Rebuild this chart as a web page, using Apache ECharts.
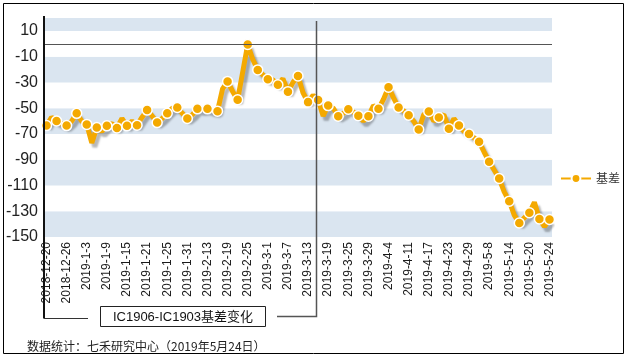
<!DOCTYPE html>
<html><head><meta charset="utf-8">
<script src="https://cdn.jsdelivr.net/npm/echarts@6/dist/echarts.min.js"></script>
<style>html,body{margin:0;padding:0;background:#fff}#c{width:628px;height:357px}</style>
</head><body><div id="c"></div>
<script>
const categories = [
'2018-12-20','2018-12-21','2018-12-24','2018-12-25','2018-12-26','2018-12-27','2018-12-28',
'2019-1-2','2019-1-3','2019-1-4','2019-1-7','2019-1-8','2019-1-9','2019-1-10','2019-1-11','2019-1-14','2019-1-15','2019-1-16','2019-1-17','2019-1-18','2019-1-21','2019-1-22','2019-1-23','2019-1-24','2019-1-25','2019-1-28','2019-1-29','2019-1-30','2019-1-31',
'2019-2-1','2019-2-11','2019-2-12','2019-2-13','2019-2-14','2019-2-15','2019-2-18','2019-2-19','2019-2-20','2019-2-21','2019-2-22','2019-2-25','2019-2-26','2019-2-27','2019-2-28',
'2019-3-1','2019-3-4','2019-3-5','2019-3-6','2019-3-7','2019-3-8','2019-3-11','2019-3-12','2019-3-13','2019-3-14','2019-3-15','2019-3-18','2019-3-19','2019-3-20','2019-3-21','2019-3-22','2019-3-25','2019-3-26','2019-3-27','2019-3-28','2019-3-29',
'2019-4-1','2019-4-2','2019-4-3','2019-4-4','2019-4-8','2019-4-9','2019-4-10','2019-4-11','2019-4-12','2019-4-15','2019-4-16','2019-4-17','2019-4-18','2019-4-19','2019-4-22','2019-4-23','2019-4-24','2019-4-25','2019-4-26','2019-4-29','2019-4-30',
'2019-5-6','2019-5-7','2019-5-8','2019-5-9','2019-5-10','2019-5-13','2019-5-14','2019-5-15','2019-5-16','2019-5-17','2019-5-20','2019-5-21','2019-5-22','2019-5-23','2019-5-24'
];
const basis = [
-63.5,-57,-60,-62,-63.5,-60,-54,-60,-62.6,-77,
-65,-68,-63.7,-62,-65.3,-58,-63.7,-60,-63.2,-57,
-51.5,-56,-61.2,-58,-54,-50,-49.4,-54,-58,-55,
-50.5,-51,-50.5,-52,-52.3,-35,-29.2,-37,-43.5,-22,
-0.6,-12,-20.3,-24,-27.6,-28,-31.8,-27,-37.2,-30,
-25,-38,-45.3,-40,-43.7,-56,-48,-50,-56.3,-54,
-50.8,-53,-55.8,-60,-56.2,-48,-50.5,-43,-33.7,-42,
-49.5,-52,-55.4,-60,-66.6,-55,-52.5,-60,-57.2,-55,
-66,-58,-63.4,-68,-70,-73,-76.1,-84,-91.5,-98,
-104.6,-115,-122.2,-133,-139.1,-135,-131.2,-123,-136,-142,
-136.4
];
const seriesName = '基差';
const yMin = -150, yMax = 20, yStep = 20;
const zeroLine = 0;
const boxTitle = 'IC1906-IC1903基差变化';
const sourceNote = '数据统计：七禾研究中心（2019年5月24日）';
const splitStartIndex = 53, splitEndIndex = 54;

const chart = echarts.init(document.getElementById('c'), null, {renderer: 'canvas'});
const orange = '#F4A900';
const option = {
  animation: false,
  backgroundColor: '#fff',
  grid: {left: 44, right: 76, top: 18, bottom: 120, containLabel: false},
  legend: {
    data: [seriesName], left: 555, top: 'middle', orient: 'vertical',
    itemWidth: 30, itemHeight: 11, itemGap: 5,
    textStyle: {fontSize: 12, color: '#333', fontFamily: 'Noto Sans CJK SC'}
  },
  xAxis: {
    type: 'category', data: categories, boundaryGap: true,
    axisLine: {show: false}, axisTick: {show: false},
    axisLabel: {interval: 3, rotate: 90, fontSize: 12, color: '#1a1a1a', margin: 5,
      fontFamily: 'Liberation Sans, Arial, sans-serif'},
    splitLine: {show: false}
  },
  yAxis: {
    type: 'value', min: yMin, max: yMax, interval: yStep,
    axisLine: {show: false}, axisTick: {show: false},
    axisLabel: {showMaxLabel: false, fontSize: 16, color: '#222', margin: 6,
      fontFamily: 'Liberation Sans, Arial, sans-serif'},
    splitLine: {show: false},
    splitArea: {show: true, areaStyle: {color: ['#DAE5F0', '#FFFFFF']}}
  },
  series: [{
    name: seriesName, type: 'line',
    data: basis.map((v, i) => i % 2 ? {value: v, symbol: 'none'} : v),
    showAllSymbol: true, symbol: 'circle', symbolSize: 10,
    lineStyle: {color: orange, width: 5, shadowColor: 'rgba(0,0,0,0.28)', shadowBlur: 2, shadowOffsetX: 3, shadowOffsetY: 4},
    itemStyle: {color: orange, borderColor: '#fff', borderWidth: 1.5},
    emphasis: {disabled: true},
    markLine: {
      silent: true, symbol: ['none', 'none'], label: {show: false},
      lineStyle: {color: '#555', width: 1.2, type: 'solid'},
      data: [{yAxis: zeroLine}]
    },
    z: 3
  }]
};
chart.setOption(option);

const px = (i) => chart.convertToPixel({xAxisIndex: 0}, i);
const py = (v) => chart.convertToPixel({yAxisIndex: 0}, v);
const gridRect = chart.getModel().getComponent('grid').coordinateSystem.getRect();
const axX = Math.round(gridRect.x);
const vx = Math.round((px(splitStartIndex) + px(splitEndIndex)) / 2) + 0.5;
const topY = py(yMax);

chart.setOption({
  graphic: [
    {type: 'rect', shape: {x: 3.5, y: 3.5, width: 620, height: 350}, style: {fill: null, stroke: '#000', lineWidth: 1}, silent: true},
    {type: 'polyline', shape: {points: [[axX, topY - 2], [axX, 318.5]]}, style: {stroke: '#111', lineWidth: 2, fill: null}, silent: true, z: 10},
    {type: 'polyline', shape: {points: [[axX, 318.5], [88, 318.5]]}, style: {stroke: '#333', lineWidth: 1.2, fill: null}, silent: true, z: 10},
    {type: 'rect', shape: {x: 100.5, y: 306.5, width: 165, height: 20}, style: {fill: '#fff', stroke: '#222', lineWidth: 1}, silent: true, z: 10},
    {type: 'text', x: 183, y: 317, style: {text: boxTitle, font: '13px "Liberation Sans", "Noto Sans CJK SC", sans-serif', fill: '#111', align: 'center', verticalAlign: 'middle'}, silent: true, z: 11},
    {type: 'polyline', shape: {points: [[277, 316.5], [vx, 316.5], [vx, topY + 3]]}, style: {stroke: '#555', lineWidth: 1.5, fill: null}, silent: true, z: 10},
    {type: 'text', x: 27, y: 346, style: {text: sourceNote, font: '12px "Noto Sans CJK SC", sans-serif', fill: '#222', align: 'left', verticalAlign: 'middle'}, silent: true, z: 11}
  ]
});
</script>
</body></html>
